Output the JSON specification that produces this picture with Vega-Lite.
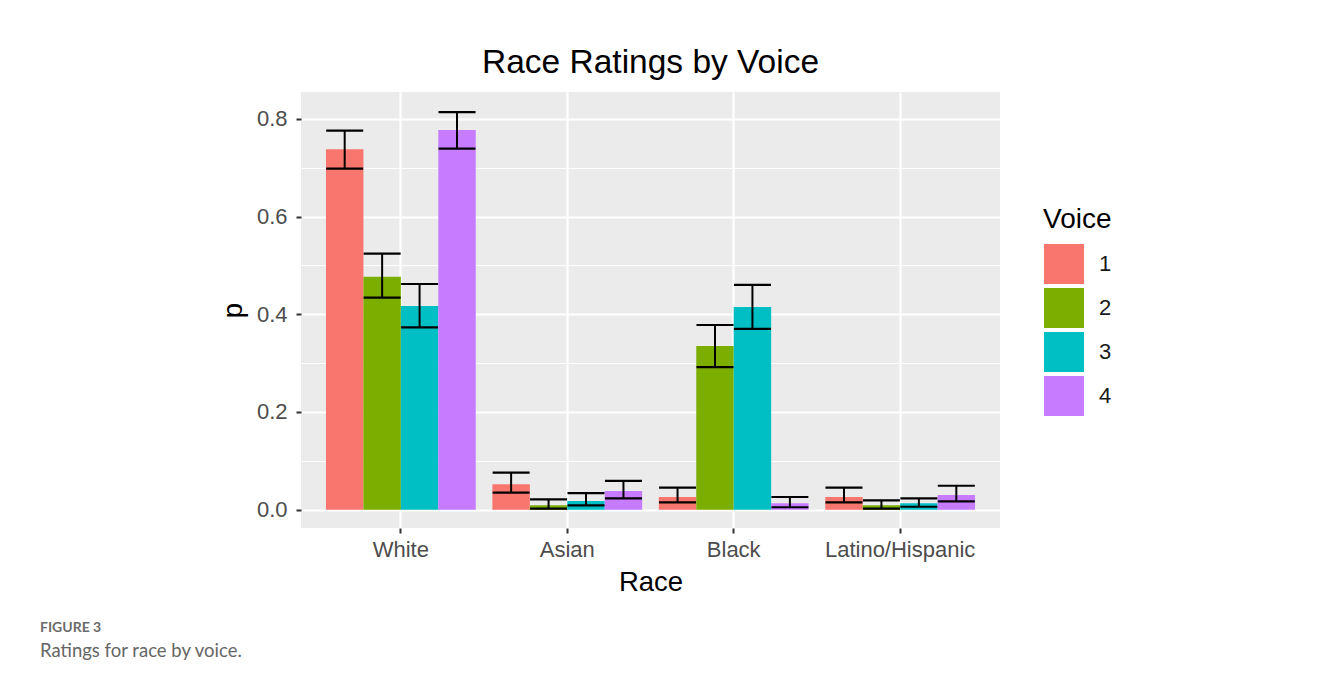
{
  "$schema": "https://vega.github.io/schema/vega-lite/v6.json",
  "autosize": {"type": "none"},
  "padding": {"left": 301, "top": 92, "right": 1028, "bottom": 592},
  "background": "white",
  "title": {
    "text": "FIGURE 3",
    "subtitle": "Ratings for race by voice.",
    "orient": "bottom",
    "anchor": "start",
    "frame": "group",
    "dx": -261,
    "offset": 25,
    "font": "Lato",
    "fontSize": 14,
    "fontWeight": "bold",
    "color": "#6b6b6b",
    "subtitleFont": "Lato",
    "subtitleFontSize": 18.5,
    "subtitleColor": "#666666",
    "subtitlePadding": 7
  },
  "config": {
    "font": "Liberation Sans",
    "view": {"stroke": null}
  },
  "vconcat": [
    {
      "width": 699,
      "height": 436,
      "view": {"fill": "#EBEBEB", "stroke": null},
      "title": {
        "text": "Race Ratings by Voice",
        "fontSize": 33.5,
        "font": "Liberation Sans",
        "fontWeight": "normal",
        "color": "black",
        "anchor": "middle",
        "baseline": "alphabetic",
        "offset": -14
      },
      "data": {
        "values": [
          {"Race": "White", "Voice": "1", "p": 0.738, "lo": 0.698, "hi": 0.776},
          {"Race": "White", "Voice": "2", "p": 0.477, "lo": 0.434, "hi": 0.524},
          {"Race": "White", "Voice": "3", "p": 0.417, "lo": 0.373, "hi": 0.462},
          {"Race": "White", "Voice": "4", "p": 0.777, "lo": 0.739, "hi": 0.814},
          {"Race": "Asian", "Voice": "1", "p": 0.052, "lo": 0.035, "hi": 0.076},
          {"Race": "Asian", "Voice": "2", "p": 0.009, "lo": 0.002, "hi": 0.021},
          {"Race": "Asian", "Voice": "3", "p": 0.018, "lo": 0.009, "hi": 0.034},
          {"Race": "Asian", "Voice": "4", "p": 0.038, "lo": 0.023, "hi": 0.059},
          {"Race": "Black", "Voice": "1", "p": 0.026, "lo": 0.015, "hi": 0.045},
          {"Race": "Black", "Voice": "2", "p": 0.335, "lo": 0.292, "hi": 0.378},
          {"Race": "Black", "Voice": "3", "p": 0.415, "lo": 0.370, "hi": 0.460},
          {"Race": "Black", "Voice": "4", "p": 0.013, "lo": 0.005, "hi": 0.026},
          {"Race": "Latino/Hispanic", "Voice": "1", "p": 0.026, "lo": 0.015, "hi": 0.045},
          {"Race": "Latino/Hispanic", "Voice": "2", "p": 0.009, "lo": 0.002, "hi": 0.019},
          {"Race": "Latino/Hispanic", "Voice": "3", "p": 0.013, "lo": 0.006, "hi": 0.023},
          {"Race": "Latino/Hispanic", "Voice": "4", "p": 0.030, "lo": 0.017, "hi": 0.049}
        ]
      },
      "encoding": {
        "x": {
          "field": "Race",
          "type": "nominal",
          "sort": ["White", "Asian", "Black", "Latino/Hispanic"],
          "scale": {"paddingInner": 0.1, "paddingOuter": 0.15},
          "axis": {
            "title": "Race",
            "bandPosition": 0.5,
            "grid": true,
            "gridColor": "white",
            "gridWidth": 2.2,
            "domain": false,
            "tickColor": "#333333",
            "tickSize": 5,
            "tickWidth": 2,
            "labelFontSize": 22,
            "labelColor": "#4d4d4d",
            "labelPadding": 6,
            "labelAngle": 0,
            "titleFontSize": 27.5,
            "titleFontWeight": "normal",
            "titleColor": "black",
            "titlePadding": 8
          }
        },
        "xOffset": {
          "field": "Voice",
          "type": "nominal",
          "scale": {"paddingInner": 0, "paddingOuter": 0}
        }
      },
      "layer": [
        {
          "mark": {"type": "bar"},
          "encoding": {
            "y": {
              "field": "p",
              "type": "quantitative",
              "stack": null,
              "title": "p",
              "scale": {"domain": [-0.0375, 0.855], "nice": false, "zero": false},
              "axis": {
                "title": "p",
                "values": [0, 0.1, 0.2, 0.3, 0.4, 0.5, 0.6, 0.7, 0.8],
                "labelExpr": "round(datum.value*10)%2==0 ? format(datum.value,'.1f') : ''",
                "grid": true,
                "gridColor": "white",
                "gridWidth": {"condition": {"test": "round(datum.value*10)%2==0", "value": 2.2}, "value": 1.1},
                "tickOpacity": {"condition": {"test": "round(datum.value*10)%2==0", "value": 1}, "value": 0},
                "domain": false,
                "tickColor": "#333333",
                "tickSize": 5,
                "tickWidth": 2,
                "labelFontSize": 22,
                "labelColor": "#4d4d4d",
                "labelPadding": 9,
                "titleFontSize": 27.5,
                "titleFontWeight": "normal",
                "titleColor": "black",
                "titlePadding": 9
              }
            },
            "color": {
              "field": "Voice",
              "type": "nominal",
              "scale": {"domain": ["1", "2", "3", "4"], "range": ["#F8766D", "#7CAE00", "#00BFC4", "#C77CFF"]},
              "legend": {
                "orient": "none",
                "legendX": 742,
                "legendY": 114,
                "title": "Voice",
                "titleFont": "Liberation Sans",
                "titleFontSize": 28,
                "titleFontWeight": "normal",
                "titleColor": "black",
                "titlePadding": 9,
                "labelFont": "Liberation Sans",
                "labelFontSize": 22,
                "labelColor": "#1a1a1a",
                "labelOffset": 14,
                "symbolType": "square",
                "symbolSize": 1681,
                "symbolOpacity": 1,
                "symbolStrokeColor": "white",
                "symbolStrokeWidth": 1,
                "rowPadding": -2,
                "padding": 0
              }
            }
          }
        },
        {
          "mark": {"type": "rule", "color": "black", "strokeWidth": 2},
          "encoding": {
            "y": {"field": "lo", "type": "quantitative", "title": "p"},
            "y2": {"field": "hi"}
          }
        },
        {
          "mark": {"type": "tick", "color": "black", "thickness": 2.2, "size": 37, "opacity": 1},
          "encoding": {
            "y": {"field": "lo", "type": "quantitative", "title": "p"}
          }
        },
        {
          "mark": {"type": "tick", "color": "black", "thickness": 2.2, "size": 37, "opacity": 1},
          "encoding": {
            "y": {"field": "hi", "type": "quantitative", "title": "p"}
          }
        }
      ]
    }
  ]
}
